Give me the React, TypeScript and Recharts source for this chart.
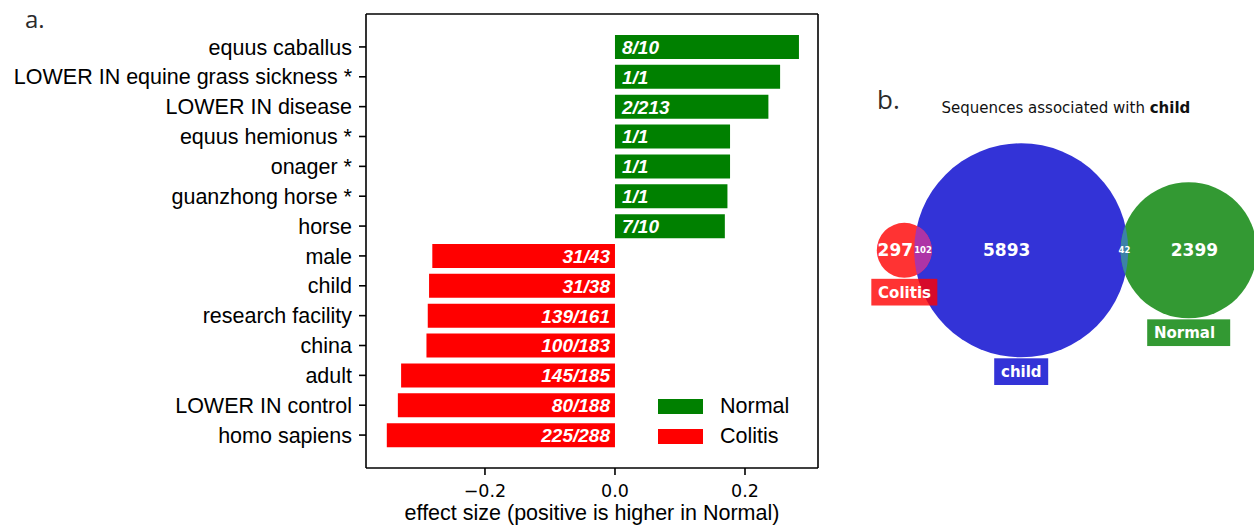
import React from 'react';
import {
  BarChart, Bar, XAxis, YAxis, LabelList, Legend, Label,
  ScatterChart, Scatter, ZAxis,
} from 'recharts';

// ---------- panel a data ----------
const categories = [
  'equus caballus',
  'LOWER IN equine grass sickness *',
  'LOWER IN disease',
  'equus hemionus *',
  'onager *',
  'guanzhong horse *',
  'horse',
  'male',
  'child',
  'research facility',
  'china',
  'adult',
  'LOWER IN control',
  'homo sapiens',
];
const effectSizes = [
  0.283, 0.254, 0.236, 0.177, 0.177, 0.173, 0.169,
  -0.281, -0.286, -0.288, -0.290, -0.329, -0.334, -0.351,
];
const countLabels = [
  '8/10', '1/1', '2/213', '1/1', '1/1', '1/1', '7/10',
  '31/43', '31/38', '139/161', '100/183', '145/185', '80/188', '225/288',
];
const seriesNames = ['Normal', 'Colitis'];
const xTicks = [-0.2, 0, 0.2];
const xDomain: [number, number] = [-0.383, 0.3123];
const xAxisTitle = 'effect size (positive is higher in Normal)';

// ---------- panel b data ----------
const vennTitle = 'Sequences associated with ';
const vennTitleBold = 'child';
const vennSetNames = ['child', 'Colitis', 'Normal'];
const vennOnlyCounts = [5893, 297, 2399];
const vennColitisChild = 102;
const vennChildNormal = 42;

const barData = categories.map((name, i) => ({
  name,
  normal: effectSizes[i] > 0 ? effectSizes[i] : 0,
  colitis: effectSizes[i] < 0 ? effectSizes[i] : 0,
  normalLabel: effectSizes[i] > 0 ? countLabels[i] : '',
  colitisLabel: effectSizes[i] < 0 ? countLabels[i] : '',
}));

const COLORS: Record<string, string> = { Normal: '#008000', Colitis: '#ff0000' };
const ARIAL = '"Liberation Sans", Arial, sans-serif';
const DEJAVU = '"DejaVu Sans", sans-serif';

// ---------- venn layout (computed from the set sizes) ----------
const VENN_W = 394;
const VENN_H = 270;
const VENN_R_MAX = 107;
const anchor = { x: 161.2, y: 120.3 };

const totals = {
  child: vennOnlyCounts[0] + vennColitisChild + vennChildNormal,
  Colitis: vennOnlyCounts[1] + vennColitisChild,
  Normal: vennOnlyCounts[2] + vennChildNormal,
};
const maxTotal = Math.max(totals.child, totals.Colitis, totals.Normal);
const radiusOf = (t: number) => VENN_R_MAX * Math.sqrt(t / maxTotal);
const areaOf = (n: number) => (Math.PI * VENN_R_MAX * VENN_R_MAX * n) / maxTotal;

function lensArea(r1: number, r2: number, d: number) {
  if (d >= r1 + r2) return 0;
  if (d <= Math.abs(r1 - r2)) return Math.PI * Math.min(r1, r2) ** 2;
  const a = r1 * r1 * Math.acos((d * d + r1 * r1 - r2 * r2) / (2 * d * r1));
  const b = r2 * r2 * Math.acos((d * d + r2 * r2 - r1 * r1) / (2 * d * r2));
  const c = 0.5 * Math.sqrt((-d + r1 + r2) * (d + r1 - r2) * (d - r1 + r2) * (d + r1 + r2));
  return a + b - c;
}
function solveDistance(r1: number, r2: number, area: number) {
  let lo = Math.abs(r1 - r2);
  let hi = r1 + r2;
  for (let k = 0; k < 80; k++) {
    const mid = (lo + hi) / 2;
    if (lensArea(r1, r2, mid) > area) lo = mid;
    else hi = mid;
  }
  return (lo + hi) / 2;
}
const rChild = radiusOf(totals.child);
const dColitis = solveDistance(rChild, radiusOf(totals.Colitis), areaOf(vennColitisChild));
const dNormal = solveDistance(rChild, radiusOf(totals.Normal), areaOf(vennChildNormal));

const vennPoints = [
  { name: vennSetNames[0], x: anchor.x, y: anchor.y, total: totals.child, only: vennOnlyCounts[0], pair: 0 },
  { name: vennSetNames[1], x: anchor.x - dColitis, y: anchor.y, total: totals.Colitis, only: vennOnlyCounts[1], pair: vennColitisChild },
  { name: vennSetNames[2], x: anchor.x + dNormal, y: anchor.y, total: totals.Normal, only: vennOnlyCounts[2], pair: vennChildNormal },
];

const vennStyle: Record<string, any> = {
  child: { fill: '#3333d7', box: '#0000cd', lens: '', dx: -14.5, boxW: 54 },
  Colitis: { fill: '#ff3333', box: '#ff0000', lens: '#ae34a6', dx: -9, boxW: 66 },
  Normal: { fill: '#339933', box: '#008000', lens: '#3c82a8', dx: 5.7, boxW: 83 },
};

const VennShape = (props: any) => {
  const { cx, cy, payload } = props;
  const r = props.size ? Math.sqrt(props.size / Math.PI) : props.width / 2;
  const st = vennStyle[payload.name];
  const base = vennPoints[0];
  const clipId = `clip-${payload.name}`;
  let lens: any = null;
  if (payload.name !== base.name) {
    const ccx = cx + (base.x - payload.x);
    const ccy = cy + (base.y - payload.y);
    const lensX = payload.x < base.x
      ? ((ccx - rChild) + (cx + r)) / 2
      : ((cx - r) + (ccx + rChild)) / 2;
    lens = (
      <g>
        <defs>
          <clipPath id={clipId}>
            <circle cx={ccx} cy={ccy} r={rChild} />
          </clipPath>
        </defs>
        <circle cx={cx} cy={cy} r={r} fill={st.lens} clipPath={`url(#${clipId})`} />
        <text x={lensX} y={cy} dy="0.36em" textAnchor="middle" fill="#fff"
          fontFamily={DEJAVU} fontWeight="bold" fontSize={8.5}>{payload.pair}</text>
      </g>
    );
  }
  const boxTop = cy + r + 1;
  const boxLeft = cx - st.boxW / 2;
  return (
    <g>
      <circle cx={cx} cy={cy} r={r} fill={st.fill} />
      {lens}
      <text x={cx + st.dx} y={cy} dy="0.36em" textAnchor="middle" fill="#fff"
        fontFamily={DEJAVU} fontWeight="bold" fontSize={17}>{payload.only}</text>
      <rect x={boxLeft} y={boxTop} width={st.boxW} height={26.7} fill={st.box} fillOpacity={0.8} />
      <text x={boxLeft + 6.8} y={boxTop + 13.35} dy="0.36em" textAnchor="start" fill="#fff"
        fontFamily={DEJAVU} fontWeight="bold" fontSize={15}>{payload.name}</text>
    </g>
  );
};

const fmt = (v: number) => (v < 0 ? '\u2212' : '') + Math.abs(v).toFixed(1);

const NormalLabel = (props: any) => {
  const { x, y, width, height, value } = props;
  if (!value) return null;
  const left = Math.min(x, x + width);
  return (
    <text x={left + 7} y={y + height / 2} dy="0.36em" textAnchor="start" fill="#fff"
      fontFamily={ARIAL} fontWeight="bold" fontStyle="italic" fontSize={19}>{value}</text>
  );
};
const ColitisLabel = (props: any) => {
  const { x, y, width, height, value } = props;
  if (!value) return null;
  const right = Math.max(x, x + width);
  return (
    <text x={right - 5} y={y + height / 2} dy="0.36em" textAnchor="end" fill="#fff"
      fontFamily={ARIAL} fontWeight="bold" fontStyle="italic" fontSize={19}>{value}</text>
  );
};

const LegendContent = (props: any) => {
  const payload = [...(props.payload || [])].sort(
    (a: any, b: any) => seriesNames.indexOf(a.value) - seriesNames.indexOf(b.value),
  );
  return (
    <div>
      {payload.map((p: any) => (
        <div key={p.value} style={{ height: 30, display: 'flex', alignItems: 'center' }}>
          <span style={{ display: 'inline-block', width: 45, height: 15, background: COLORS[p.value] || p.color, marginRight: 17 }} />
          <span style={{ fontFamily: ARIAL, fontSize: 21.5, color: '#000', lineHeight: '30px' }}>{p.value}</span>
        </div>
      ))}
    </div>
  );
};

export default function App() {
  const axisStroke = { stroke: '#000', strokeWidth: 1.6 };
  return (
    <div style={{ position: 'absolute', left: 0, top: 0, width: 1254, height: 529, background: '#fff', overflow: 'hidden' }}>
      <svg width={1254} height={529} style={{ position: 'absolute', left: 0, top: 0 }}>
        <text x={25} y={28} fontFamily='"Open Sans", sans-serif' fontSize={24} fill="#2b2b2b">a.</text>
        <text x={877} y={109} fontFamily='"Open Sans", sans-serif' fontSize={26} fill="#2b2b2b">b.</text>
        <text x={941.5} y={112.5} fontFamily={DEJAVU} fontSize={15} fill="#111">
          {vennTitle}<tspan fontWeight="bold">{vennTitleBold}</tspan>
        </text>
      </svg>

      <div style={{ position: 'absolute', left: 0, top: 0 }}>
        <BarChart
          width={840}
          height={529}
          data={barData}
          layout="vertical"
          margin={{ top: 13, right: 21, bottom: 0, left: 0 }}
          barCategoryGap="10%"
        >
          <XAxis
            type="number"
            domain={xDomain}
            allowDataOverflow
            ticks={xTicks}
            tickFormatter={fmt}
            height={61}
            tickSize={7}
            tickMargin={10}
            tick={{ fill: '#000', fontSize: 17.5, fontFamily: DEJAVU }}
            tickLine={axisStroke}
            axisLine={axisStroke}
          >
            <Label value={xAxisTitle} position="insideBottom" offset={9}
              style={{ fontFamily: ARIAL, fontSize: 21.5, fill: '#000' }} />
          </XAxis>
          <XAxis
            xAxisId="top"
            orientation="top"
            type="number"
            domain={xDomain}
            allowDataOverflow
            height={1}
            tick={false}
            tickLine={false}
            axisLine={axisStroke}
          />
          <YAxis
            type="category"
            dataKey="name"
            width={366}
            padding={{ top: 18, bottom: 18 }}
            tickSize={7}
            tickMargin={7}
            interval={0}
            tick={{ fill: '#000', fontSize: 21.5, fontFamily: ARIAL }}
            tickLine={axisStroke}
            axisLine={axisStroke}
          />
          <YAxis
            yAxisId="right"
            orientation="right"
            type="category"
            dataKey="name"
            width={1}
            padding={{ top: 18, bottom: 18 }}
            tick={false}
            tickLine={false}
            axisLine={axisStroke}
          />
          <Legend
            layout="vertical"
            align="center"
            verticalAlign="middle"
            wrapperStyle={{ left: 658, top: 391, width: 200 }}
            content={<LegendContent />}
          />
          <Bar dataKey="normal" name={seriesNames[0]} xAxisId="top" fill={COLORS.Normal} isAnimationActive={false}>
            <LabelList dataKey="normalLabel" content={<NormalLabel />} />
          </Bar>
          <Bar dataKey="colitis" name={seriesNames[1]} yAxisId="right" fill={COLORS.Colitis} isAnimationActive={false}>
            <LabelList dataKey="colitisLabel" content={<ColitisLabel />} />
          </Bar>
        </BarChart>
      </div>

      <div style={{ position: 'absolute', left: 860, top: 130 }}>
        <ScatterChart width={VENN_W} height={VENN_H} margin={{ top: 0, right: 0, bottom: 0, left: 0 }}>
          <XAxis type="number" dataKey="x" domain={[0, VENN_W]} hide allowDataOverflow />
          <YAxis type="number" dataKey="y" domain={[0, VENN_H]} hide reversed allowDataOverflow />
          <ZAxis type="number" dataKey="total" domain={[0, maxTotal]} range={[0, Math.PI * VENN_R_MAX * VENN_R_MAX]} />
          <Scatter data={vennPoints} shape={<VennShape />} isAnimationActive={false} />
        </ScatterChart>
      </div>
    </div>
  );
}
